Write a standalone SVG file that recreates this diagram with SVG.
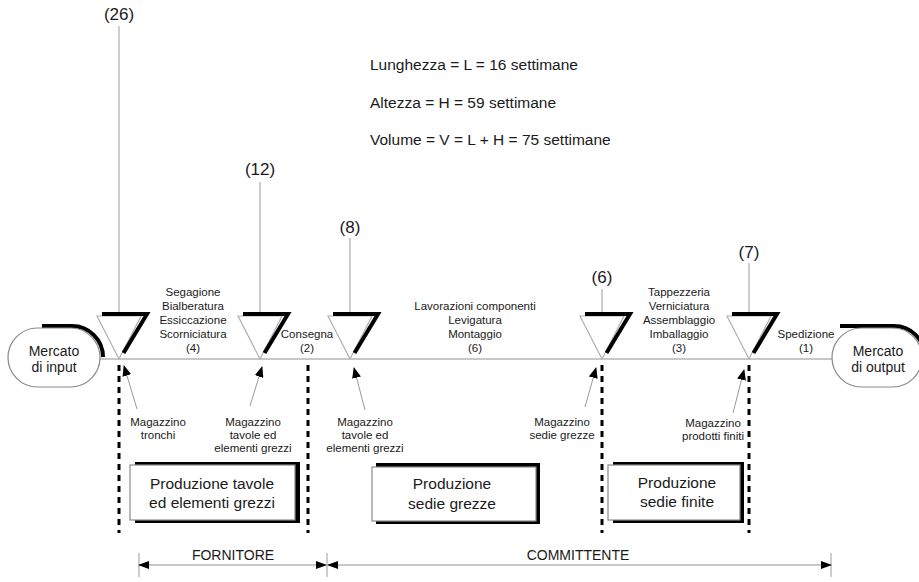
<svg xmlns="http://www.w3.org/2000/svg" width="919" height="582" viewBox="0 0 919 582">
<style>
text{font-family:"Liberation Sans",Arial,sans-serif;fill:#1a1a1a;text-anchor:middle}
.hdr{font-size:15.5px;text-anchor:start}
.num{font-size:17px}
.sm{font-size:11.5px}
.mk{font-size:14px}
.bx{font-size:15.5px}
.gl{stroke:#b4b4b4;stroke-width:1.3;fill:none}
.dot{stroke:#000;stroke-width:3;stroke-dasharray:6 5;fill:none}
.ga{stroke:#9a9a9a;stroke-width:1;fill:none}
.sh{stroke:#000;stroke-width:4;fill:none}
.box{fill:#fff;stroke:#8a8a8a;stroke-width:1.2}
</style>
<defs>
<g id="tri">
<polygon points="-22,-43 22,-43 0,0" fill="#fff" stroke="#b0b0b0" stroke-width="1.2"/>
<polyline points="-17,-45 28,-45 4.5,-6" fill="none" stroke="#000" stroke-width="4" stroke-linejoin="miter"/>
</g>
<marker id="ah" markerWidth="11" markerHeight="8" refX="10" refY="4" orient="auto-start-reverse" markerUnits="userSpaceOnUse">
<path d="M0,0 L11,4 L0,8 z" fill="#000"/>
</marker>
<marker id="ah2" markerWidth="11" markerHeight="9" refX="10" refY="4.5" orient="auto" markerUnits="userSpaceOnUse">
<path d="M0,0 L11,4.5 L0,9 z" fill="#000"/>
</marker>
</defs>

<g id="header">
<text class="hdr" x="370" y="70">Lunghezza = L = 16 settimane</text>
<text class="hdr" x="370" y="108">Altezza = H = 59 settimane</text>
<text class="hdr" x="370" y="145">Volume = V = L + H = 75 settimane</text>
</g>

<g id="connectors">
<line class="gl" x1="100" y1="359" x2="832" y2="359"/>
<line class="gl" x1="119" y1="26" x2="119" y2="314"/>
<line class="gl" x1="260" y1="182" x2="260" y2="314"/>
<line class="gl" x1="350" y1="238" x2="350" y2="314"/>
<line class="gl" x1="602" y1="289" x2="602" y2="314"/>
<line class="gl" x1="749" y1="263" x2="749" y2="314"/>
<line class="dot" x1="119" y1="365" x2="119" y2="533"/>
<line class="dot" x1="308" y1="365" x2="308" y2="533"/>
<line class="dot" x1="602" y1="365" x2="602" y2="533"/>
<line class="dot" x1="749" y1="365" x2="749" y2="533"/>
<line class="ga" x1="137" y1="409" x2="124" y2="366" marker-end="url(#ah2)"/>
<line class="ga" x1="250" y1="406" x2="262" y2="367" marker-end="url(#ah2)"/>
<line class="ga" x1="365" y1="410" x2="354" y2="368" marker-end="url(#ah2)"/>
<line class="ga" x1="585" y1="407" x2="596" y2="368" marker-end="url(#ah2)"/>
<line class="ga" x1="733" y1="413" x2="744" y2="370" marker-end="url(#ah2)"/>
<line class="gl" x1="139" y1="553" x2="139" y2="577"/>
<line class="gl" x1="327" y1="553" x2="327" y2="577"/>
<line class="gl" x1="831" y1="553" x2="831" y2="577"/>
<line class="gl" x1="139" y1="565" x2="326" y2="565" marker-start="url(#ah)" marker-end="url(#ah)"/>
<line class="gl" x1="328" y1="565" x2="831" y2="565" marker-start="url(#ah)" marker-end="url(#ah)"/>
</g>

<g id="mercato-input">
<path class="sh" d="M42,326 L72,326 A31,31 0 0 1 103,357"/>
<rect class="box" x="8" y="328" width="92" height="59" rx="29.5"/>
<text class="mk" x="54" y="356">Mercato</text>
<text class="mk" x="54" y="372">di input</text>
</g>

<g id="mercato-output">
<path class="sh" d="M840,326 L894,326 A31,31 0 0 1 925,357"/>
<rect class="box" x="832" y="328" width="90" height="59" rx="29.5"/>
<text class="mk" x="878" y="356">Mercato</text>
<text class="mk" x="878" y="372">di output</text>
</g>

<g id="inv-26">
<use href="#tri" x="119" y="359"/>
<text class="num" x="119" y="20">(26)</text>
</g>
<g id="inv-12">
<use href="#tri" x="260" y="359"/>
<text class="num" x="260" y="175">(12)</text>
</g>
<g id="inv-8">
<use href="#tri" x="350" y="359"/>
<text class="num" x="350" y="233">(8)</text>
</g>
<g id="inv-6">
<use href="#tri" x="602" y="359"/>
<text class="num" x="602" y="283">(6)</text>
</g>
<g id="inv-7">
<use href="#tri" x="749" y="359"/>
<text class="num" x="749" y="258">(7)</text>
</g>

<g id="proc-4">
<text class="sm" x="193" y="296">Segagione</text>
<text class="sm" x="193" y="310">Bialberatura</text>
<text class="sm" x="193" y="324">Essiccazione</text>
<text class="sm" x="193" y="338">Scorniciatura</text>
<text class="sm" x="193" y="352">(4)</text>
</g>
<g id="proc-2">
<text class="sm" x="307" y="338">Consegna</text>
<text class="sm" x="307" y="352">(2)</text>
</g>
<g id="proc-6">
<text class="sm" x="475" y="310">Lavorazioni componenti</text>
<text class="sm" x="475" y="324">Levigatura</text>
<text class="sm" x="475" y="338">Montaggio</text>
<text class="sm" x="475" y="352">(6)</text>
</g>
<g id="proc-3">
<text class="sm" x="679" y="296">Tappezzeria</text>
<text class="sm" x="679" y="310">Verniciatura</text>
<text class="sm" x="679" y="324">Assemblaggio</text>
<text class="sm" x="679" y="338">Imballaggio</text>
<text class="sm" x="679" y="352">(3)</text>
</g>
<g id="proc-1">
<text class="sm" x="806" y="338">Spedizione</text>
<text class="sm" x="806" y="352">(1)</text>
</g>

<g id="mag-tronchi">
<text class="sm" x="158" y="426">Magazzino</text>
<text class="sm" x="158" y="439">tronchi</text>
</g>
<g id="mag-tavole-1">
<text class="sm" x="253" y="426">Magazzino</text>
<text class="sm" x="253" y="439">tavole ed</text>
<text class="sm" x="253" y="452">elementi grezzi</text>
</g>
<g id="mag-tavole-2">
<text class="sm" x="365" y="426">Magazzino</text>
<text class="sm" x="365" y="439">tavole ed</text>
<text class="sm" x="365" y="452">elementi grezzi</text>
</g>
<g id="mag-sedie">
<text class="sm" x="562" y="426">Magazzino</text>
<text class="sm" x="562" y="439">sedie grezze</text>
</g>
<g id="mag-prodotti">
<text class="sm" x="713" y="427">Magazzino</text>
<text class="sm" x="713" y="440">prodotti finiti</text>
</g>

<g id="box-tavole">
<rect x="135" y="462" width="165" height="61" fill="#000"/>
<rect class="box" x="130" y="465" width="165" height="55"/>
<text class="bx" x="212" y="489">Produzione tavole</text>
<text class="bx" x="212" y="508">ed elementi grezzi</text>
</g>
<g id="box-grezze">
<rect x="376" y="463" width="164" height="61" fill="#000"/>
<rect class="box" x="372" y="467" width="164" height="54"/>
<text class="bx" x="452" y="489">Produzione</text>
<text class="bx" x="452" y="509">sedie grezze</text>
</g>
<g id="box-finite">
<rect x="613" y="462" width="131" height="61" fill="#000"/>
<rect class="box" x="608" y="465" width="132" height="55"/>
<text class="bx" x="677" y="488">Produzione</text>
<text class="bx" x="677" y="507">sedie finite</text>
</g>

<g id="labels-bottom">
<text class="mk" x="233" y="560">FORNITORE</text>
<text class="mk" x="578" y="560">COMMITTENTE</text>
</g>
</svg>
